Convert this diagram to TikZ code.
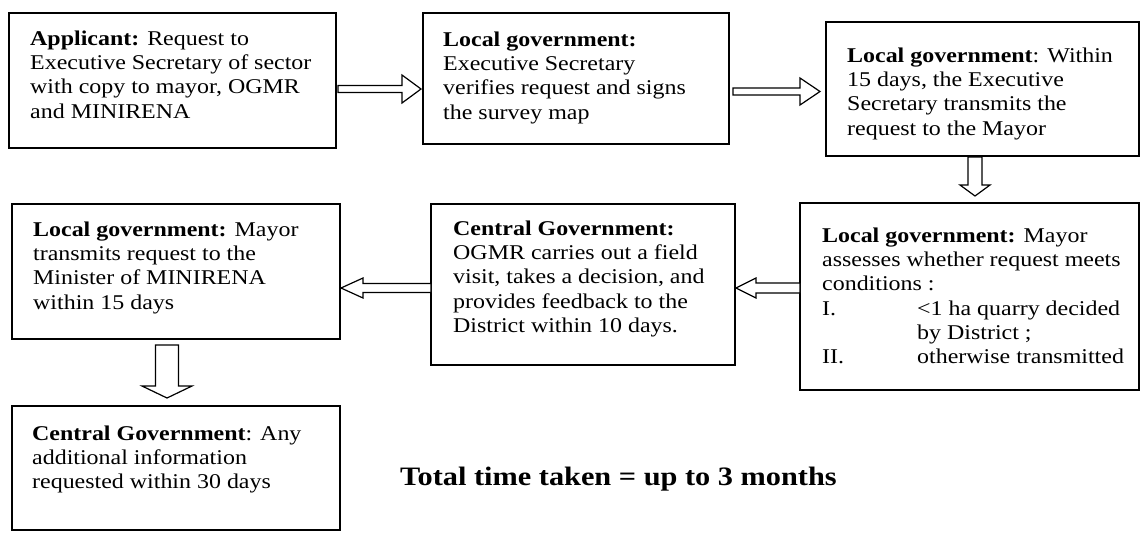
\documentclass[tikz,border=0pt]{standalone}
\usepackage{fontspec}
\setmainfont{Liberation Serif}[FakeStretch=1.14]
\usetikzlibrary{calc}
\tikzset{
  box/.style={draw=black, line width=1.6pt, inner sep=0pt, outer sep=0pt, anchor=north west, fill=white},
  boxtext/.style={anchor=north west, inner sep=0pt, align=left, font=\fontsize{21}{24.3}\selectfont},
  barrow/.style={draw=black, line width=1.2pt, fill=white, line join=miter}
}
\newcommand\blockarrow[5]{%
  \coordinate (ba-s) at #1; \coordinate (ba-t) at #2;
  \coordinate (ba-b) at ($(ba-t)!#5!(ba-s)$);
  \draw[barrow] ($(ba-s)!#3!90:(ba-t)$) -- ($(ba-b)!#3!-90:(ba-s)$) -- ($(ba-b)!#4!-90:(ba-s)$) -- (ba-t) -- ($(ba-b)!#4!90:(ba-s)$) -- ($(ba-b)!#3!90:(ba-s)$) -- ($(ba-s)!#3!-90:(ba-t)$) -- cycle;}
\newcommand\fs{\rule{0pt}{17pt}}
\begin{document}
\begin{tikzpicture}[x=1pt,y=-1pt]
\useasboundingbox (0,0) rectangle (1141,536);
% boxes
\node[box, minimum width=327pt, minimum height=135pt] (A) at (9,13) {};
\node[box, minimum width=306pt, minimum height=131pt] (B) at (423,13) {};
\node[box, minimum width=313pt, minimum height=134pt] (C) at (826,22) {};
\node[box, minimum width=339pt, minimum height=187pt] (D) at (800,203) {};
\node[box, minimum width=304pt, minimum height=161pt] (E) at (431,204) {};
\node[box, minimum width=328pt, minimum height=135pt] (F) at (12,204) {};
\node[box, minimum width=328pt, minimum height=124pt] (G) at (12,406) {};
% texts
\node[boxtext] (tA) at ($(A.north west)+(21,15)$) {\fs\textbf{Applicant:} Request to\\Executive Secretary of sector\\with copy to mayor, OGMR\\and MINIRENA};
\node[boxtext] (tB) at ($(B.north west)+(20,16)$) {\fs\textbf{Local government:}\\Executive Secretary\\verifies request and signs\\the survey map};
\node[boxtext] (tC) at ($(C.north west)+(21,23)$) {\fs\textbf{Local government}: Within\\15 days, the Executive\\Secretary transmits the\\request to the Mayor};
\node[boxtext] (tD) at ($(D.north west)+(22,22)$) {\fs\textbf{Local government:} Mayor\\assesses whether request meets\\conditions :\\\makebox[95pt][l]{I.}<1 ha quarry decided\\\hspace*{95pt}by District ;\\\makebox[95pt][l]{II.}otherwise transmitted};
\node[boxtext] (tE) at ($(E.north west)+(22,14)$) {\fs\textbf{Central Government:}\\OGMR carries out a field\\visit, takes a decision, and\\provides feedback to the\\District within 10 days.};
\node[boxtext] (tF) at ($(F.north west)+(21,15)$) {\fs\textbf{Local government:} Mayor\\transmits request to the\\Minister of MINIRENA\\within 15 days};
\node[boxtext] (tG) at ($(G.north west)+(20,17)$) {\fs\textbf{Central Government}: Any\\additional information\\requested within 30 days};
\node[anchor=base west, inner sep=0pt, font=\fontsize{26.6}{30}\selectfont\bfseries] (T) at (400,485) {Total time taken = up to 3 months};
% arrows
\blockarrow{($(A.east)+(2,8.5)$)}{($(B.west)+(-2,10.5)$)}{3.5pt}{14pt}{19pt}
\blockarrow{($(B.east)+(4,13)$)}{($(C.west)+(-6,2.5)$)}{3.5pt}{13.5pt}{20pt}
\blockarrow{($(C.south)+(-7.5,1)$)}{($(D.north)+(5.5,-7)$)}{7pt}{15pt}{11pt}
\blockarrow{($(D.west)+(0,-8.5)$)}{($(E.east)+(1,3.5)$)}{5pt}{10pt}{20pt}
\blockarrow{($(E.west)+(0,3.5)$)}{($(F.east)+(1,16.5)$)}{4.5pt}{10pt}{22pt}
\blockarrow{($(F.south)+(-9,6)$)}{($(G.north)+(-9,-8)$)}{11.5pt}{25pt}{12pt}
\end{tikzpicture}
\end{document}
